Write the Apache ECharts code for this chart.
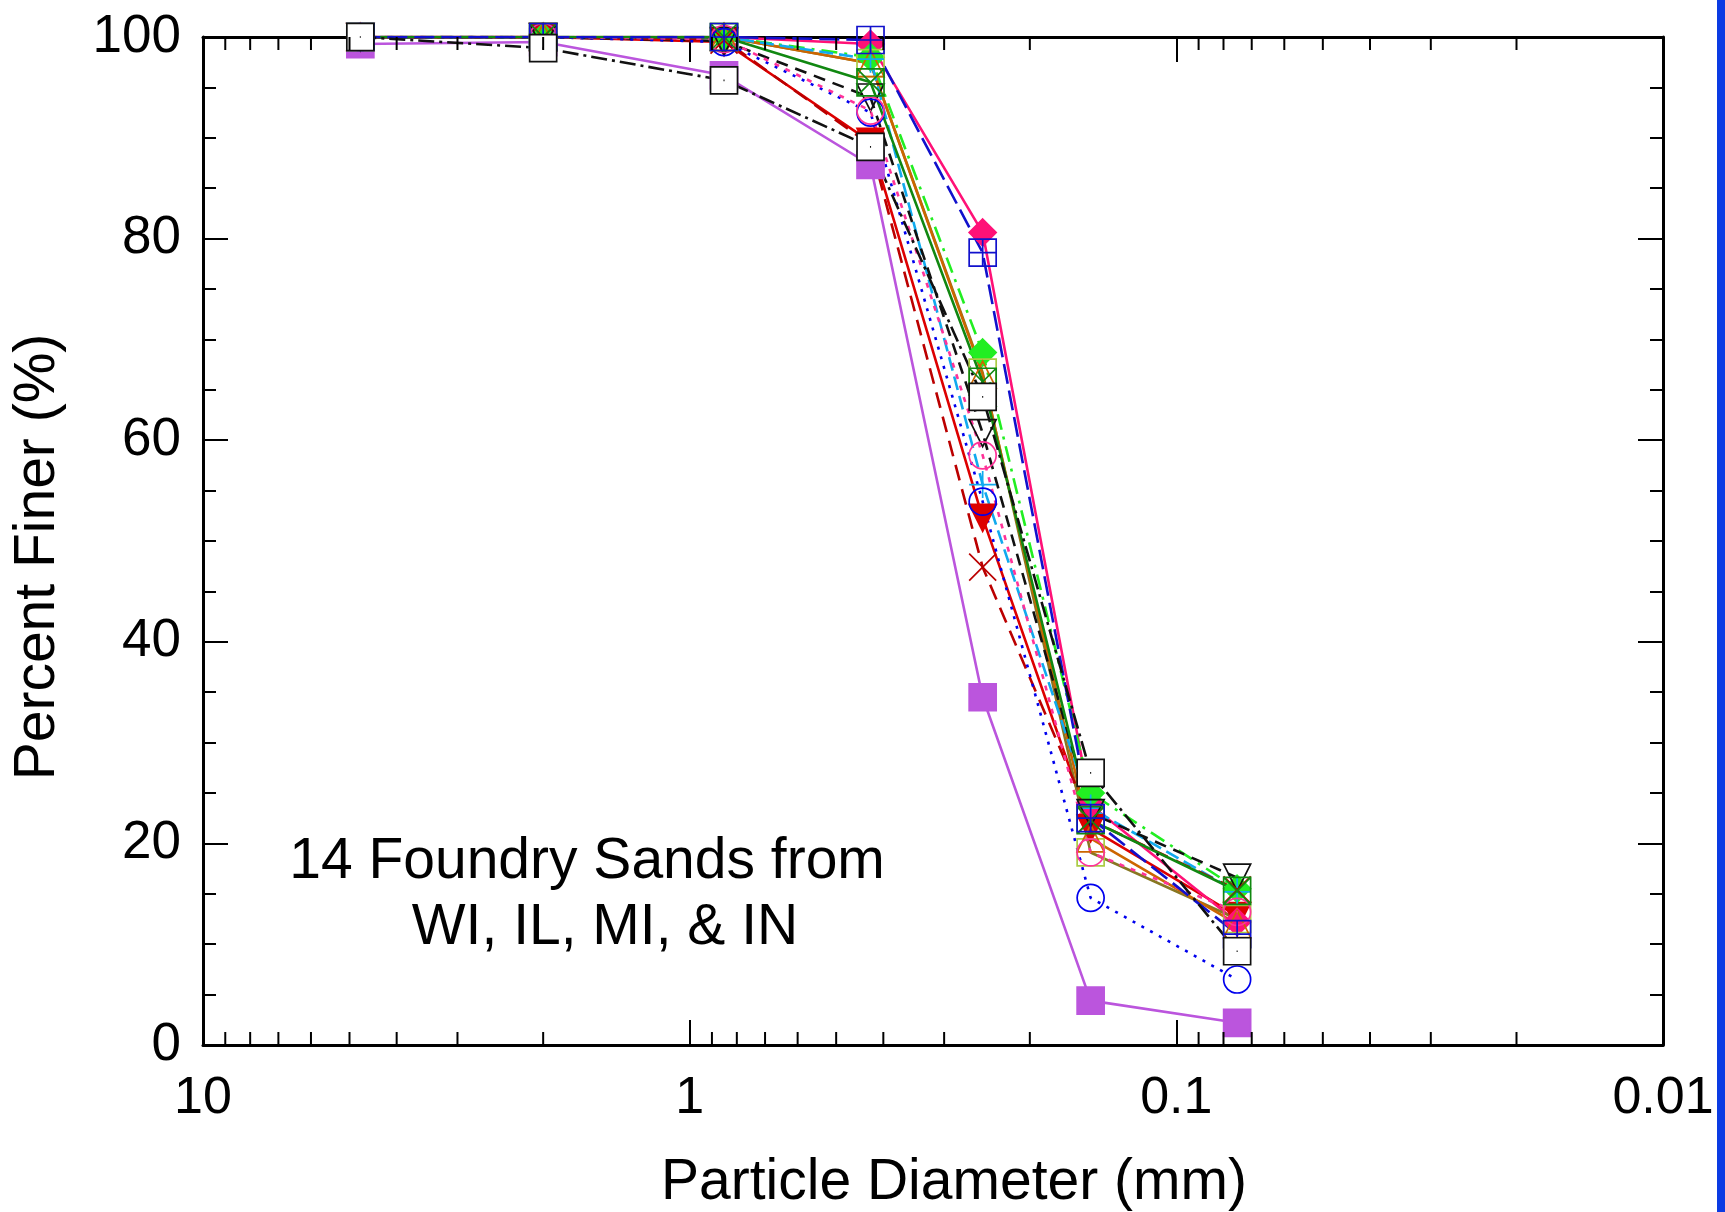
<!DOCTYPE html>
<html>
<head>
<meta charset="utf-8">
<title>Foundry Sands</title>
<script src="https://cdn.jsdelivr.net/npm/echarts@6/dist/echarts.min.js"></script>
<style>
    html, body { margin: 0; padding: 0; background: #fff; }
    #main { width: 1725px; height: 1212px; }
</style>
</head>
<body>
<div id="main"></div>
<script>
// sieve sizes (mm)
var sizes = [4.75, 2.0, 0.85, 0.425, 0.25, 0.15, 0.075];

// percent finer, one array per sand
var purpleSquare   = [99.3, 99.5, 96.2, 87.3, 34.5, 4.4, 2.2];
var blueBoxPlus    = [100, 100, 100, 99.7, 78.6, 22.5, 11.0];
var pinkDiamond    = [100, 100, 100, 99.3, 80.6, 23.8, 12.2];
var limeDiamond    = [100, 100, 100, 98.0, 68.7, 25.0, 15.5];
var yellowSquare   = [100, 100, 100, 97.4, 66.7, 19.1, 12.5];
var orangeTriangle = [100, 100, 100, 97.4, 66.5, 20.5, 12.0];
var greenBoxX      = [100, 100, 100, 95.5, 65.8, 22.3, 15.3];
var skyPlus        = [100, 100, 100, 97.8, 55.6, 23.5, 15.2];
var blackTriDown   = [100, 100, 99.6, 94.0, 60.7, 23.0, 16.6];
var redTriDown     = [100, 100, 99.5, 89.6, 52.3, 21.5, 12.8];
var darkRedX       = [100, 100, 99.7, 89.3, 47.4, 22.3, 15.4];
var blueCircle     = [100, 100, 99.5, 92.5, 53.9, 14.6, 6.5];
var pinkCircle     = [100, 100, 99.8, 92.7, 58.5, 19.1, 13.2];
var blackSquare    = [100, 98.9, 95.7, 89.1, 64.3, 27.0, 9.3];

// log minor tick positions
var minorTicks = [9, 8, 7, 6, 5, 4, 3, 2, 0.9, 0.8, 0.7, 0.6, 0.5, 0.4, 0.3, 0.2,
    0.09, 0.08, 0.07, 0.06, 0.05, 0.04, 0.03, 0.02];

var annotation = ['14 Foundry Sands from', 'WI, IL, MI, & IN'];
var xTitle = 'Particle Diameter (mm)';
var yTitle = 'Percent Finer (%)';

var FONT = 'Liberation Sans, Arial, Helvetica, sans-serif';

// marker shapes
var SYM_BOX_PLUS = 'path://M0,0H20V20H0Z M10,0V20 M0,10H20';
var SYM_BOX_X = 'path://M0,0H20V20H0Z M0,0L20,20 M20,0L0,20';
var SYM_BOX_DOT = 'path://M0,0H20V20H0Z M9.6,10H10.4';
var SYM_X = 'path://M0,0L20,20 M20,0L0,20';
var SYM_PLUS = 'path://M10,0V20 M0,10H20';
var SYM_CIRCLE_DOT = 'path://M20,10A10,10 0 1,1 0,10A10,10 0 1,1 20,10Z M9.6,10H10.4';

function pairs(vals) {
    var out = [];
    for (var i = 0; i < sizes.length; i++) {
        out.push([sizes[i], vals[i]]);
    }
    return out;
}

function sand(name, vals, color, dash, symbol, fill, rotate) {
    return {
        name: name,
        type: 'line',
        data: pairs(vals),
        symbol: symbol,
        symbolSize: 27,
        symbolRotate: rotate || 0,
        lineStyle: { color: color, width: 2.6, type: dash },
        itemStyle: { color: fill, borderColor: color, borderWidth: 1.7 },
        emphasis: { disabled: true },
        silent: true,
        z: 3
    };
}

// filled markers first, so the open ones sit on top of them
var series = [
    sand('s1', purpleSquare, '#BB55DD', 'solid', 'rect', '#BB55DD'),
    sand('s10', redTriDown, '#DD0000', 'solid', 'triangle', '#DD0000', 180),
    sand('s3', pinkDiamond, '#FF1177', 'solid', 'diamond', '#FF1177'),
    sand('s4', limeDiamond, '#22EE22', [16, 7, 3, 7], 'diamond', '#22EE22'),
    sand('s5', yellowSquare, '#887722', 'solid', 'rect', 'transparent'),
    sand('s6', orangeTriangle, '#CC6600', 'solid', 'triangle', 'transparent'),
    sand('s8', skyPlus, '#11AAEE', [14, 6], SYM_PLUS, 'transparent'),
    sand('s9', blackTriDown, '#111111', [12, 8], 'triangle', 'transparent', 180),
    sand('s11', darkRedX, '#BB0000', [16, 9], SYM_X, 'transparent'),
    sand('s12', blueCircle, '#0000EE', [3, 7], 'circle', 'transparent'),
    sand('s13', pinkCircle, '#FF3399', [5, 7], SYM_CIRCLE_DOT, 'transparent'),
    sand('s7', greenBoxX, '#118811', 'solid', SYM_BOX_X, 'transparent'),
    sand('s2', blueBoxPlus, '#1111CC', [20, 7], SYM_BOX_PLUS, 'transparent'),
    sand('s14', blackSquare, '#111111', [16, 5, 3, 5], SYM_BOX_DOT, '#ffffff')
];
// yellow-green outline for the open squares of s5
series[4].itemStyle.borderColor = '#AACC44';

// minor ticks of the log axes (bottom and top), drawn through the axis scale
series.push({
    type: 'custom',
    silent: true,
    clip: false,
    z: 5,
    data: minorTicks.map(function (v) { return [v, 0]; }),
    renderItem: function (params, api) {
        var v = api.value(0);
        var b = api.coord([v, 0]);
        var t = api.coord([v, 100]);
        var st = { stroke: '#000', lineWidth: 2 };
        return {
            type: 'group',
            children: [
                { type: 'line', shape: { x1: b[0], y1: b[1], x2: b[0], y2: b[1] - 13 }, style: st },
                { type: 'line', shape: { x1: t[0], y1: t[1], x2: t[0], y2: t[1] + 13 }, style: st }
            ]
        };
    }
});

var axisLine = { show: true, onZero: false, lineStyle: { color: '#000', width: 3 } };
var majorTick = { show: true, inside: true, length: 25, lineStyle: { color: '#000', width: 2 } };
var minorTickY = { show: true, splitNumber: 4, length: 13, lineStyle: { color: '#000', width: 2 } };

function fmtX(v) {
    return String(Number(v.toPrecision(3)));
}

var option = {
    animation: false,
    backgroundColor: '#ffffff',
    grid: { left: 203, right: 62, top: 37, bottom: 167, containLabel: false },
    xAxis: [{
        type: 'log',
        logBase: 10,
        min: 0.01,
        max: 10,
        inverse: true,
        position: 'bottom',
        axisLine: axisLine,
        axisTick: majorTick,
        splitLine: { show: false },
        axisLabel: { fontFamily: FONT, fontSize: 52, color: '#000', margin: 28, formatter: fmtX }
    }, {
        type: 'log',
        logBase: 10,
        min: 0.01,
        max: 10,
        inverse: true,
        position: 'top',
        axisLine: axisLine,
        axisTick: majorTick,
        splitLine: { show: false },
        axisLabel: { show: false }
    }],
    yAxis: [{
        type: 'value',
        min: 0,
        max: 100,
        interval: 20,
        position: 'left',
        axisLine: axisLine,
        axisTick: majorTick,
        minorTick: minorTickY,
        splitLine: { show: false },
        axisLabel: { fontFamily: FONT, fontSize: 53, color: '#000', margin: 22 }
    }, {
        type: 'value',
        min: 0,
        max: 100,
        interval: 20,
        position: 'right',
        axisLine: axisLine,
        axisTick: majorTick,
        minorTick: minorTickY,
        splitLine: { show: false },
        axisLabel: { show: false }
    }],
    graphic: [{
        type: 'text',
        x: 38,
        y: 557,
        rotation: Math.PI / 2,
        style: { text: yTitle, font: '57px ' + FONT, fill: '#000', textAlign: 'center', textVerticalAlign: 'middle' }
    }, {
        type: 'text',
        x: 954,
        y: 1183,
        style: { text: xTitle, font: '57px ' + FONT, fill: '#000', textAlign: 'center', textVerticalAlign: 'middle' }
    }, {
        type: 'text',
        x: 587,
        y: 862,
        style: { text: annotation[0], font: '57px ' + FONT, fill: '#000', textAlign: 'center', textVerticalAlign: 'middle' }
    }, {
        type: 'text',
        x: 605,
        y: 928,
        style: { text: annotation[1], font: '57px ' + FONT, fill: '#000', textAlign: 'center', textVerticalAlign: 'middle' }
    }, {
        type: 'rect',
        shape: { x: 1717, y: 0, width: 8, height: 1212 },
        style: { fill: '#0B3BE3' }
    }],
    series: series
};

var mychart = echarts.init(document.getElementById('main'));
mychart.setOption(option);
</script>
</body>
</html>
